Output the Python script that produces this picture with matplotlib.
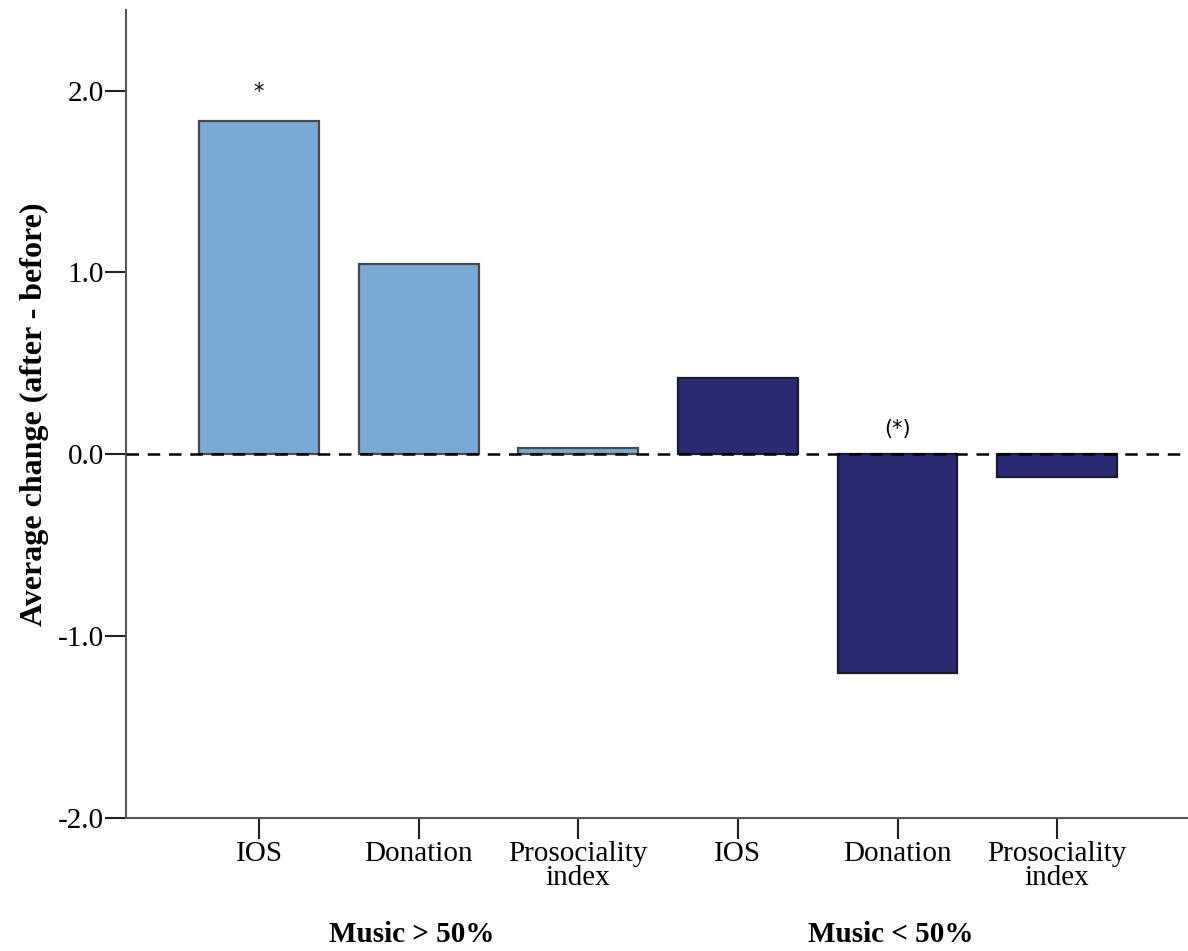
import matplotlib
matplotlib.use('Agg')
import matplotlib.pyplot as plt
import numpy as np

# --- DATA ---
categories = ['IOS', 'Donation', 'Prosociality\nindex', 'IOS', 'Donation', 'Prosociality\nindex']
values = [1.83, 1.045, 0.033, 0.42, -1.205, -0.127]
groups = ['Music > 50%', 'Music < 50%']
group_of_bar = [0, 0, 0, 1, 1, 1]
marks = {0: '*', 4: '(*)'}   # significance marks by bar index

# --- STYLE ---
COLORS = ['#7BA9D5', '#2A2A72']
EDGES = ['#4A4A4A', '#1A1A2A']
SERIF = 'Liberation Serif'

fig = plt.figure(figsize=(11.88, 9.51), dpi=100)
ax = fig.add_axes([0.106, 0.140, 0.894, 0.8495])

x = np.arange(len(values))
for i, v in enumerate(values):
    g = group_of_bar[i]
    ax.bar(x[i], v, width=0.75, color=COLORS[g], edgecolor=EDGES[g], linewidth=1.6, zorder=2)

# zero reference line
ax.axhline(0, color='black', linestyle=(0, (5, 3.5)), linewidth=1.8, zorder=3)

# significance marks
for i, txt in marks.items():
    yy = values[i] + 0.16 if values[i] > 0 else 0.14
    ax.text(x[i], yy, txt, ha='center', va='center', fontsize=15, family='DejaVu Sans')

ax.set_xlim(-0.834, 5.82)
ax.set_ylim(-2.0, 2.443)
ax.set_yticks([-2.0, -1.0, 0.0, 1.0, 2.0])
ax.set_yticklabels([f'{t:.1f}' for t in [-2.0, -1.0, 0.0, 1.0, 2.0]], family=SERIF, fontsize=21)
ax.set_xticks(x)
ax.set_xticklabels(categories, family=SERIF, fontsize=21, linespacing=0.9)
ax.tick_params(axis='y', length=15, width=1.5, pad=1, color='#222222')
ax.tick_params(axis='x', length=15, width=1.5, pad=2, color='#222222')

for s in ['top', 'right']:
    ax.spines[s].set_visible(False)
for s in ['left', 'bottom']:
    ax.spines[s].set_color('#555555')
    ax.spines[s].set_linewidth(1.5)

ax.set_ylabel('Average change (after - before)', family=SERIF, fontsize=23, fontweight='bold', labelpad=6)

# group labels under the tick labels
for gi, name in enumerate(groups):
    gx = np.mean([x[i] for i in range(len(x)) if group_of_bar[i] == gi])
    xf = ax.transData.transform((gx, 0))[0] / fig.bbox.width
    fig.text(xf - 0.006, 0.032, name, ha='center', va='top', family=SERIF, fontsize=21, fontweight='bold')

fig.savefig('out.png', dpi=100)
